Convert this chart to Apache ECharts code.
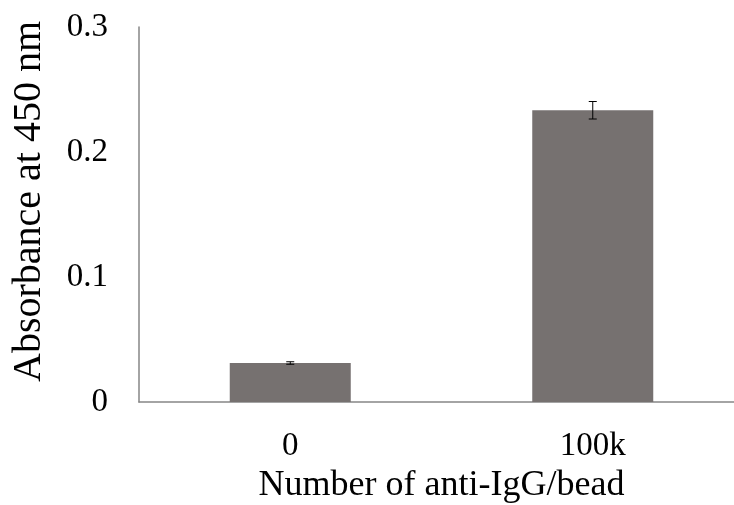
<!DOCTYPE html>
<html><head><meta charset="utf-8">
<script src="https://cdn.jsdelivr.net/npm/echarts@6/dist/echarts.min.js"></script>
<style>html,body{margin:0;padding:0;background:#fff}#c{width:734px;height:505px}</style>
</head><body><div id="c"></div>
<script>
var categories = ['0', '100k'];
var values = [0.0312, 0.2334];
var errors = [0.001, 0.007];
var yTicks = [0, 0.1, 0.2, 0.3];

var chart = echarts.init(document.getElementById('c'));
var font = '"Liberation Serif","Times New Roman",serif';
chart.setOption({
  animation: false,
  grid: {left: 139, top: 27, width: 605, height: 375, containLabel: false, outerBoundsMode: 'none'},
  xAxis: {
    type: 'category', data: categories,
    axisLine: {lineStyle: {color: '#868686', width: 1.5}},
    axisTick: {show: false},
    axisLabel: {color: '#000', fontFamily: font, fontSize: 33, margin: 28},
    name: 'Number of anti-IgG/bead', nameLocation: 'middle', nameGap: 60,
    nameTextStyle: {color: '#000', fontFamily: font, fontSize: 36}
  },
  yAxis: {
    type: 'value', min: 0, max: 0.3, interval: 0.1,
    axisLine: {show: true, lineStyle: {color: '#868686', width: 1.5}},
    axisTick: {show: false},
    splitLine: {show: false},
    axisLabel: {color: '#000', fontFamily: font, fontSize: 33, margin: 31,
      formatter: function(v){ var t = yTicks.find(function(x){return Math.abs(x-v)<1e-9;}); return t===0?'0':String(t); }},
    name: 'Absorbance at 450 nm', nameLocation: 'middle', nameGap: 90,
    nameTextStyle: {color: '#000', fontFamily: font, fontSize: 40, padding: [0, 0, 0, 26]}
  },
  series: [{
    type: 'bar', data: values, barWidth: '40%',
    itemStyle: {color: '#767170'}
  }, {
    type: 'custom',
    data: values.map(function(v,i){return [i, v-errors[i], v+errors[i]];}),
    renderItem: function(params, api){
      var lo = api.coord([api.value(0), api.value(1)]);
      var hi = api.coord([api.value(0), api.value(2)]);
      var hw = 4;
      var st = {stroke: '#000', lineWidth: 1};
      return {type: 'group', children: [
        {type: 'line', shape: {x1: lo[0], y1: lo[1], x2: hi[0], y2: hi[1]}, style: st},
        {type: 'line', shape: {x1: lo[0]-hw, y1: lo[1], x2: lo[0]+hw, y2: lo[1]}, style: st},
        {type: 'line', shape: {x1: hi[0]-hw, y1: hi[1], x2: hi[0]+hw, y2: hi[1]}, style: st}
      ]};
    },
    z: 10
  }]
});
</script></body></html>
